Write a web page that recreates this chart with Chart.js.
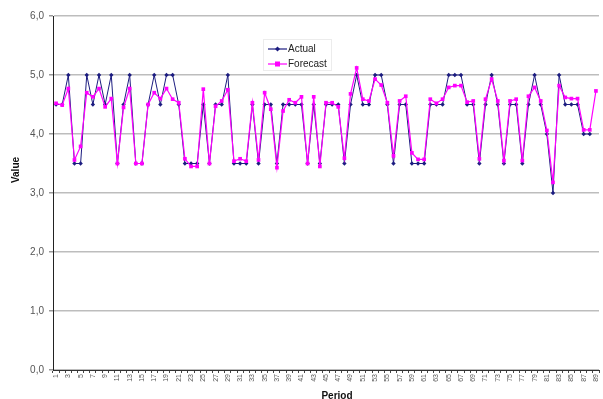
<!DOCTYPE html>
<html>
<head>
<meta charset="utf-8">
<script src="https://cdn.jsdelivr.net/npm/chart.js@4"></script>
<style>
  html, body { margin: 0; padding: 0; background: #fff; }
  #wrap { width: 603px; height: 399px; }
</style>
</head>
<body>
<div id="wrap"><canvas id="chart"></canvas></div>
<script>
// values
const periods = [];
for (let i = 1; i <= 89; i++) periods.push(String(i));

const actual = [
  4.5, 4.5, 5.0, 3.5, 3.5, 5.0, 4.5, 5.0, 4.5, 5.0,
  3.5, 4.5, 5.0, 3.5, 3.5, 4.5, 5.0, 4.5, 5.0, 5.0,
  4.5, 3.5, 3.5, 3.5, 4.5, 3.5, 4.5, 4.5, 5.0, 3.5,
  3.5, 3.5, 4.5, 3.5, 4.5, 4.5, 3.5, 4.5, 4.5, 4.5,
  4.5, 3.5, 4.5, 3.5, 4.5, 4.5, 4.5, 3.5, 4.5, 5.0,
  4.5, 4.5, 5.0, 5.0, 4.5, 3.5, 4.5, 4.5, 3.5, 3.5,
  3.5, 4.5, 4.5, 4.5, 5.0, 5.0, 5.0, 4.5, 4.5, 3.5,
  4.5, 5.0, 4.5, 3.5, 4.5, 4.5, 3.5, 4.5, 5.0, 4.5,
  4.0, 3.0, 5.0, 4.5, 4.5, 4.5, 4.0, 4.0
];

const forecast = [
  4.52, 4.49, 4.77, 3.56, 3.79, 4.70, 4.63, 4.77, 4.46, 4.60,
  3.50, 4.45, 4.77, 3.50, 3.50, 4.50, 4.70, 4.60, 4.77, 4.59,
  4.53, 3.58, 3.45, 3.45, 4.76, 3.50, 4.47, 4.56, 4.75, 3.54,
  3.58, 3.54, 4.53, 3.56, 4.70, 4.42, 3.43, 4.39, 4.58, 4.53,
  4.63, 3.50, 4.63, 3.45, 4.53, 4.53, 4.46, 3.59, 4.68, 5.12,
  4.59, 4.56, 4.93, 4.83, 4.53, 3.63, 4.56, 4.64, 3.68, 3.57,
  3.57, 4.59, 4.52, 4.59, 4.79, 4.82, 4.82, 4.54, 4.56, 3.58,
  4.59, 4.93, 4.56, 3.55, 4.56, 4.59, 3.55, 4.64, 4.79, 4.56,
  4.06, 3.18, 4.82, 4.62, 4.60, 4.60, 4.07, 4.07, 4.73
];

const yTicks = [0, 1, 2, 3, 4, 5, 6];

const navy = '#1c1c80';
const magenta = '#ff00ff';

// axis titles and the boxed legend sit at fixed spots in the reference
const extras = {
  id: 'extras',
  afterDraw(chart) {
    const ctx = chart.ctx;
    ctx.save();
    ctx.fillStyle = '#111';
    ctx.font = 'bold 10px "Liberation Sans", Arial, sans-serif';
    ctx.textAlign = 'center';
    ctx.textBaseline = 'middle';
    ctx.fillText('Period', 337, 396);
    ctx.translate(16, 170);
    ctx.rotate(-Math.PI / 2);
    ctx.fillText('Value', 0, 0);
    ctx.restore();

    ctx.save();
    ctx.strokeStyle = '#ececec';
    ctx.lineWidth = 1;
    ctx.strokeRect(263.5, 39.5, 68, 31);
    const rows = [
      { label: 'Actual', color: navy, y: 49, shape: 'diamond' },
      { label: 'Forecast', color: magenta, y: 64, shape: 'square' }
    ];
    rows.forEach(r => {
      ctx.strokeStyle = r.color;
      ctx.fillStyle = r.color;
      ctx.lineWidth = 1.2;
      ctx.beginPath();
      ctx.moveTo(268, r.y);
      ctx.lineTo(287, r.y);
      ctx.stroke();
      if (r.shape === 'diamond') {
        ctx.beginPath();
        ctx.moveTo(277.5, r.y - 2.5);
        ctx.lineTo(280, r.y);
        ctx.lineTo(277.5, r.y + 2.5);
        ctx.lineTo(275, r.y);
        ctx.closePath();
        ctx.fill();
      } else {
        ctx.fillRect(275, r.y - 2.5, 5, 5);
      }
      ctx.fillStyle = '#222';
      ctx.font = '10px "Liberation Sans", Arial, sans-serif';
      ctx.textAlign = 'left';
      ctx.textBaseline = 'middle';
      ctx.fillText(r.label, 288, r.y);
    });
    ctx.restore();
  }
};

new Chart(document.getElementById('chart'), {
  type: 'line',
  data: {
    labels: periods,
    datasets: [
      {
        label: 'Actual',
        data: actual,
        borderColor: navy,
        backgroundColor: navy,
        borderWidth: 1,
        pointStyle: 'rectRot',
        pointRadius: 2.2,
        pointBorderWidth: 0,
        tension: 0,
        order: 2
      },
      {
        label: 'Forecast',
        data: forecast,
        borderColor: magenta,
        backgroundColor: magenta,
        borderWidth: 1.2,
        pointStyle: 'rect',
        pointRadius: 2.6,
        pointBorderWidth: 0,
        tension: 0,
        order: 1
      }
    ]
  },
  options: {
    responsive: true,
    maintainAspectRatio: false,
    animation: false,
    layout: {
      padding: { top: 16, right: 0, bottom: 0, left: 0 }
    },
    plugins: {
      legend: { display: false },
      tooltip: { enabled: false }
    },
    scales: {
      x: {
        type: 'category',
        offset: true,
        afterFit: (scale) => {
          scale.height = 29;
          scale.paddingLeft = 0;
          scale.paddingRight = 0;
        },
        border: { display: true, color: '#333', width: 1 },
        grid: {
          display: true,
          drawOnChartArea: false,
          drawTicks: true,
          tickLength: 3,
          color: '#444',
          offset: true
        },
        ticks: {
          autoSkip: false,
          maxRotation: 90,
          minRotation: 90,
          padding: 1,
          color: '#555',
          font: { size: 7, family: '"Liberation Sans", Arial, sans-serif' },
          callback: function (value, index) {
            return index % 2 === 0 ? periods[index] : '';
          }
        }
      },
      y: {
        min: yTicks[0],
        max: yTicks[yTicks.length - 1],
        afterFit: (scale) => { scale.width = 53; },
        afterBuildTicks: (scale) => {
          scale.ticks = yTicks.map(v => ({ value: v }));
        },
        border: { display: true, color: '#222', width: 1 },
        grid: {
          color: '#bdbdbd',
          lineWidth: 1.5,
          tickLength: 4,
          tickColor: '#999'
        },
        ticks: {
          padding: 5,
          color: '#555',
          font: { size: 10, family: '"Liberation Sans", Arial, sans-serif' },
          callback: (v) => v.toFixed(1).replace('.', ',')
        }
      }
    }
  },
  plugins: [extras]
});
</script>
</body>
</html>
